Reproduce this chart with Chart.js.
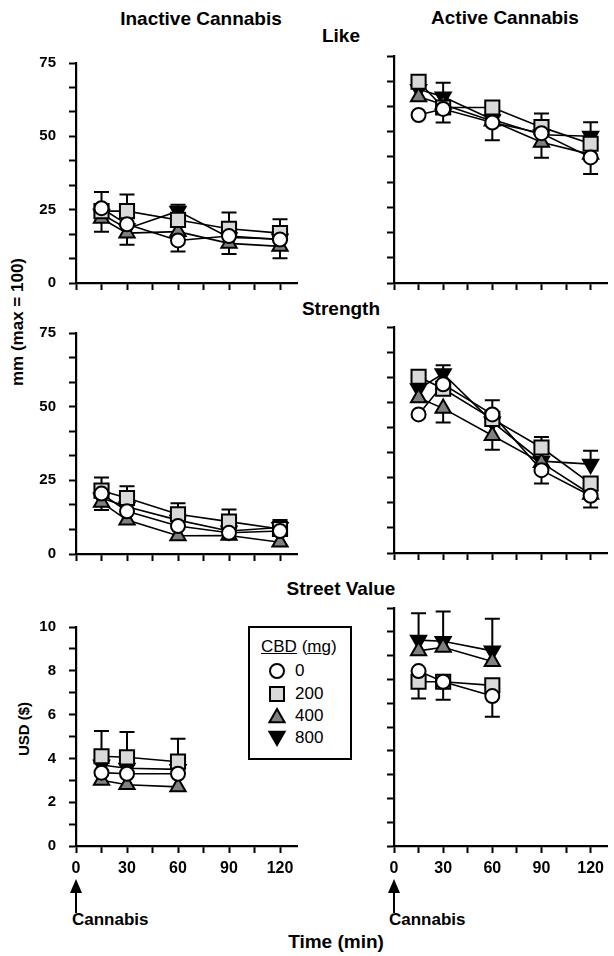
<!DOCTYPE html>
<html><head><meta charset="utf-8">
<script src="https://cdn.jsdelivr.net/npm/chart.js@4"></script>
<style>
html,body{margin:0;padding:0;background:#fff;}
body{width:614px;height:956px;position:relative;overflow:hidden;font-family:"Liberation Sans",Arial,sans-serif;color:#000;}
canvas{position:absolute;}
.t{position:absolute;font-weight:bold;white-space:nowrap;transform:translate(-50%,-50%);}
.l{position:absolute;font-weight:bold;white-space:nowrap;transform:translate(0,-50%);}
.r{position:absolute;font-weight:bold;white-space:nowrap;transform:translate(-50%,-50%) rotate(-90deg);}
#legend{position:absolute;left:248px;top:626px;width:104px;height:134px;border:2px solid #000;box-sizing:border-box;font-size:17px;}
#legend .row{position:absolute;left:0;height:20px;line-height:20px;}
</style></head><body>

<div class="t" style="left:201px;top:19px;font-size:19px;">Inactive Cannabis</div>
<div class="t" style="left:505px;top:18px;font-size:19px;">Active Cannabis</div>
<div class="t" style="left:341px;top:36px;font-size:19px;">Like</div>
<div class="t" style="left:341px;top:309px;font-size:19px;">Strength</div>
<div class="t" style="left:341px;top:589px;font-size:19px;">Street Value</div>
<div class="t" style="left:336px;top:942px;font-size:19px;">Time (min)</div>
<div class="r" style="left:18px;top:322px;font-size:17px;">mm (max = 100)</div>
<div class="r" style="left:23px;top:729px;font-size:15px;">USD ($)</div>
<div class="l" style="left:72px;top:920px;font-size:17px;">Cannabis</div>
<div class="l" style="left:389px;top:920px;font-size:17px;">Cannabis</div>

<svg style="position:absolute;left:0;top:0" width="614" height="956">
  <g fill="#000" stroke="#000" stroke-width="2">
    <line x1="76" y1="890" x2="76" y2="913"/>
    <polygon points="76,879 70,893 82,893" stroke="none"/>
    <line x1="394" y1="890" x2="394" y2="913"/>
    <polygon points="394,879 388,893 400,893" stroke="none"/>
  </g>
</svg>

<div id="legend"></div>

<script>
// ---------------- DATA ----------------
const doses = ['0', '200', '400', '800'];
const times = [15, 30, 60, 90, 120];
const timesSV = [15, 30, 60];
const xTickValues = [0, 15, 30, 45, 60, 75, 90, 105, 120];
const xTickLabels = [0, 30, 60, 90, 120];

// Like (mm) – Inactive cannabis
const likeInact0   = [25.5, 20.0, 14.5, 16.0, 14.8];
const likeInact200 = [24.5, 24.5, 21.5, 18.5, 17.0];
const likeInact400 = [22.0, 17.0, 17.5, 13.5, 12.5];
const likeInact800 = [23.5, 18.5, 24.5, 15.5, 15.0];
const likeInactUp   = [[5.5, null, null, null, null], [null, 5.7, null, 5.5, 4.7], [null, null, null, null, null], [null, null, 2.2, null, null]];
const likeInactDown = [[null, null, 3.8, null, null], [null, null, null, null, null], [4.5, 4.0, null, 3.6, 4.1], [null, null, null, null, null]];

// Like (mm) – Active cannabis
const likeAct0   = [55.5, 57.5, 53.0, 49.5, 41.5];
const likeAct200 = [66.5, 58.0, 58.0, 51.5, 46.0];
const likeAct400 = [61.5, 59.0, 53.5, 46.5, 42.5];
const likeAct800 = [64.0, 61.5, 54.0, 49.0, 48.5];
const likeActUp   = [[null, null, null, null, null], [null, null, null, 4.5, null], [null, null, null, null, null], [null, 4.7, null, null, 4.6]];
const likeActDown = [[null, 4.5, 5.8, null, 5.5], [null, null, null, null, null], [null, null, null, 5.1, null], [null, null, null, null, null]];

// Strength (mm) – Inactive cannabis
const strInact0   = [20.5, 14.5, 9.5, 7.2, 7.8];
const strInact200 = [21.5, 19.0, 13.5, 11.0, 8.5];
const strInact400 = [17.5, 11.5, 6.2, 6.3, 4.0];
const strInact800 = [19.0, 16.0, 11.5, 7.8, 9.0];
const strInactUp   = [[null, null, null, null, null], [4.5, 4.0, 3.7, 4.1, null], [null, null, null, null, null], [null, null, null, null, 2.5]];
const strInactDown = [[null, null, null, null, null], [null, null, null, null, null], [2.6, null, null, null, null], [null, null, null, null, null]];

// Strength (mm) – Active cannabis
const strAct0   = [46.0, 56.0, 46.0, 27.5, 19.0];
const strAct200 = [58.5, 54.5, 44.5, 35.0, 23.0];
const strAct400 = [51.5, 48.0, 39.0, 30.0, 19.5];
const strAct800 = [54.5, 59.5, 43.5, 30.5, 29.5];
const strActUp   = [[null, null, 4.7, null, null], [null, null, null, 3.5, null], [null, null, null, null, null], [null, 2.8, null, null, 4.4]];
const strActDown = [[null, null, null, 4.4, 3.9], [null, null, null, null, null], [null, 4.7, 4.7, null, null], [null, null, null, null, null]];

// Street value (USD) – Inactive cannabis
const svInact0   = [3.35, 3.30, 3.30];
const svInact200 = [4.10, 4.05, 3.85];
const svInact400 = [3.00, 2.80, 2.70];
const svInact800 = [3.70, 3.55, 3.50];
const svInactUp   = [[null, null, null], [1.15, 1.15, 1.05], [null, null, null], [null, null, null]];
const svInactDown = [[null, null, null], [null, null, null], [null, null, null], [null, null, null]];

// Street value (USD) – Active cannabis
const svAct0   = [7.35, 6.90, 6.30];
const svAct200 = [6.90, 6.90, 6.75];
const svAct400 = [8.20, 8.35, 7.75];
const svAct800 = [8.65, 8.60, 8.20];
const svActUp   = [[null, null, null], [null, null, null], [null, null, null], [1.13, 1.25, 1.35]];
const svActDown = [[null, null, 0.87], [0.70, 0.75, null], [null, null, null], [null, null, null]];

// ---------------- STYLES ----------------
const markerStyles = [
  {pointStyle: 'circle',   radius: 7,   bg: '#ffffff', rot: 0},
  {pointStyle: 'rect',     radius: 10,  bg: '#d9d9d9', rot: 0},
  {pointStyle: 'triangle', radius: 8.8, bg: '#808080', rot: 0},
  {pointStyle: 'triangle', radius: 8.8, bg: '#000000', rot: 180}
];
const FONT = '"Liberation Sans", Arial, sans-serif';

const errorBarPlugin = {
  id: 'errbars',
  beforeDatasetsDraw(chart) {
    const ctx = chart.ctx, xs = chart.scales.x, ys = chart.scales.y;
    const cap = 7.5;
    ctx.save();
    ctx.strokeStyle = '#000';
    ctx.lineWidth = 2;
    chart.data.datasets.forEach(ds => {
      if (!ds.errUp && !ds.errDown) return;
      ds.data.forEach((p, i) => {
        const x = xs.getPixelForValue(p.x);
        [[ds.errUp, 1], [ds.errDown, -1]].forEach(([arr, s]) => {
          if (!arr || arr[i] == null) return;
          const y0 = ys.getPixelForValue(p.y);
          const y1 = ys.getPixelForValue(p.y + s * arr[i]);
          ctx.beginPath();
          ctx.moveTo(x, y0); ctx.lineTo(x, y1);
          ctx.moveTo(x - cap, y1); ctx.lineTo(x + cap, y1);
          ctx.stroke();
        });
      });
    });
    ctx.restore();
  }
};

// panel layout (target plot area in page pixels)
const panels = [
  {left: 76,  top: 63,  w: 221, h: 220, yMax: 75, yStep: 25/3, yMajor: 25, yLab: true,  xLab: false, t: times,   s: [likeInact0, likeInact200, likeInact400, likeInact800], up: likeInactUp, dn: likeInactDown},
  {left: 394, top: 56,  w: 213, h: 227, yMax: 75, yStep: 25/3, yMajor: 25, yLab: false, xLab: false, t: times,   s: [likeAct0, likeAct200, likeAct400, likeAct800], up: likeActUp, dn: likeActDown},
  {left: 76,  top: 333, w: 221, h: 221, yMax: 75, yStep: 25/3, yMajor: 25, yLab: true,  xLab: false, t: times,   s: [strInact0, strInact200, strInact400, strInact800], up: strInactUp, dn: strInactDown},
  {left: 394, top: 327, w: 213, h: 226, yMax: 75, yStep: 25/3, yMajor: 25, yLab: false, xLab: false, t: times,   s: [strAct0, strAct200, strAct400, strAct800], up: strActUp, dn: strActDown},
  {left: 76,  top: 627, w: 221, h: 219, yMax: 10, yStep: 1,    yMajor: 2,  yLab: true,  xLab: true,  t: timesSV, s: [svInact0, svInact200, svInact400, svInact800], up: svInactUp, dn: svInactDown},
  {left: 394, top: 608, w: 213, h: 238, yMax: 10, yStep: 1,    yMajor: 2,  yLab: false, xLab: true,  t: timesSV, s: [svAct0, svAct200, svAct400, svAct800], up: svActUp, dn: svActDown}
];

function buildConfig(P, Wy, Hx) {
  const yTicks = [];
  for (let k = 0; k * P.yStep <= P.yMax + 1e-9; k++) yTicks.push(k * P.yStep);
  const datasets = [];
  P.s.forEach(vals => {
    datasets.push({
      data: P.t.map((x, i) => ({x, y: vals[i]})),
      borderColor: '#000', borderWidth: 1.6, pointRadius: 0, showLine: true,
      fill: false, order: 2, clip: false
    });
  });
  P.s.forEach((vals, si) => {
    const m = markerStyles[si];
    datasets.push({
      label: doses[si],
      data: P.t.map((x, i) => ({x, y: vals[i]})),
      showLine: false, order: 1, clip: false,
      pointStyle: m.pointStyle, pointRadius: m.radius, pointRotation: m.rot,
      pointBackgroundColor: m.bg, pointBorderColor: '#000', pointBorderWidth: 2,
      pointHoverRadius: m.radius,
      errUp: P.up[si], errDown: P.dn[si]
    });
  });
  return {
    type: 'line',
    data: {datasets},
    plugins: [errorBarPlugin],
    options: {
      responsive: false, maintainAspectRatio: false, animation: false, devicePixelRatio: 1,
      layout: {padding: {top: 12, right: 7, left: 0, bottom: 0}},
      plugins: {legend: {display: false}, tooltip: {enabled: false}},
      events: [],
      scales: {
        x: {
          type: 'linear', min: 0, max: 130,
          afterBuildTicks: s => { s.ticks = xTickValues.map(v => ({value: v})); },
          afterFit: s => { s.height = Hx; },
          border: {display: true, color: '#000', width: 2.2},
          grid: {display: true, drawOnChartArea: false, drawTicks: true, tickLength: 7, tickWidth: 2, tickColor: '#000'},
          ticks: {
            display: P.xLab, autoSkip: false, maxRotation: 0, minRotation: 0, padding: 6,
            color: '#000', font: {family: FONT, size: 16, weight: 'bold'},
            callback: v => xTickLabels.includes(v) ? String(v) : ''
          }
        },
        y: {
          type: 'linear', min: 0, max: P.yMax,
          afterBuildTicks: s => { s.ticks = yTicks.map(v => ({value: v})); },
          afterFit: s => { s.width = Wy; },
          border: {display: true, color: '#000', width: 2.2},
          grid: {display: true, drawOnChartArea: false, drawTicks: true, tickLength: 7, tickWidth: 2, tickColor: '#000'},
          ticks: {
            display: P.yLab, autoSkip: false, padding: 13,
            color: '#000', font: {family: FONT, size: 15, weight: 'bold'},
            callback: v => {
              const r = v / P.yMajor;
              return Math.abs(r - Math.round(r)) < 1e-6 ? String(Math.round(v)) : '';
            }
          }
        }
      }
    }
  };
}

panels.forEach(P => {
  const Wy = P.yLab ? 70 : 14, Hx = P.xLab ? 44 : 12;
  // first pass: measure the offsets of the plot area within the canvas
  let W = Wy + P.w + 30, H = 30 + P.h + Hx;
  let cv = document.createElement('canvas');
  cv.width = W; cv.height = H;
  cv.style.width = W + 'px'; cv.style.height = H + 'px';
  cv.style.left = '0px'; cv.style.top = '0px';
  document.body.appendChild(cv);
  let ch = new Chart(cv, buildConfig(P, Wy, Hx));
  const ca = ch.chartArea;
  const dl = ca.left, dt = ca.top, dr = W - ca.right, db = H - ca.bottom;
  ch.destroy();
  cv.remove();
  // second pass: size & place the canvas so the plot area lands on the target
  W = Math.round(dl + P.w + dr); H = Math.round(dt + P.h + db);
  cv = document.createElement('canvas');
  cv.width = W; cv.height = H;
  cv.style.width = W + 'px'; cv.style.height = H + 'px';
  cv.style.left = (P.left - dl) + 'px';
  cv.style.top = (P.top - dt) + 'px';
  document.body.appendChild(cv);
  new Chart(cv, buildConfig(P, Wy, Hx));
});

// ---------------- LEGEND ----------------
const legend = document.getElementById('legend');
const title = document.createElement('div');
title.className = 'row';
title.style.left = '11px'; title.style.top = '9px';
title.innerHTML = '<u>CBD</u> (<u>m</u>g)';
legend.appendChild(title);
function markerSVG(si) {
  const m = markerStyles[si];
  let shape;
  if (m.pointStyle === 'circle') shape = '<circle cx="10" cy="10" r="7" fill="' + m.bg + '" stroke="#000" stroke-width="2"/>';
  else if (m.pointStyle === 'rect') shape = '<rect x="3" y="3" width="14" height="14" fill="' + m.bg + '" stroke="#000" stroke-width="2"/>';
  else if (m.rot === 0) shape = '<polygon points="10,1.5 17.6,14.7 2.4,14.7" fill="' + m.bg + '" stroke="#000" stroke-width="2" transform="translate(0,1.5)"/>';
  else shape = '<polygon points="10,18.5 17.6,5.3 2.4,5.3" fill="' + m.bg + '" stroke="#000" stroke-width="2" transform="translate(0,-1.5)"/>';
  return '<svg width="20" height="20" style="position:absolute;left:0;top:0">' + shape + '</svg>';
}
const rowY = [43, 66, 88, 110];
doses.forEach((d, si) => {
  const row = document.createElement('div');
  row.className = 'row';
  row.style.left = '17px';
  row.style.top = (rowY[si] - 10) + 'px';
  row.style.width = '80px';
  row.innerHTML = markerSVG(si) + '<span style="position:absolute;left:28px;top:0">' + d + '</span>';
  legend.appendChild(row);
});
</script>
</body></html>
